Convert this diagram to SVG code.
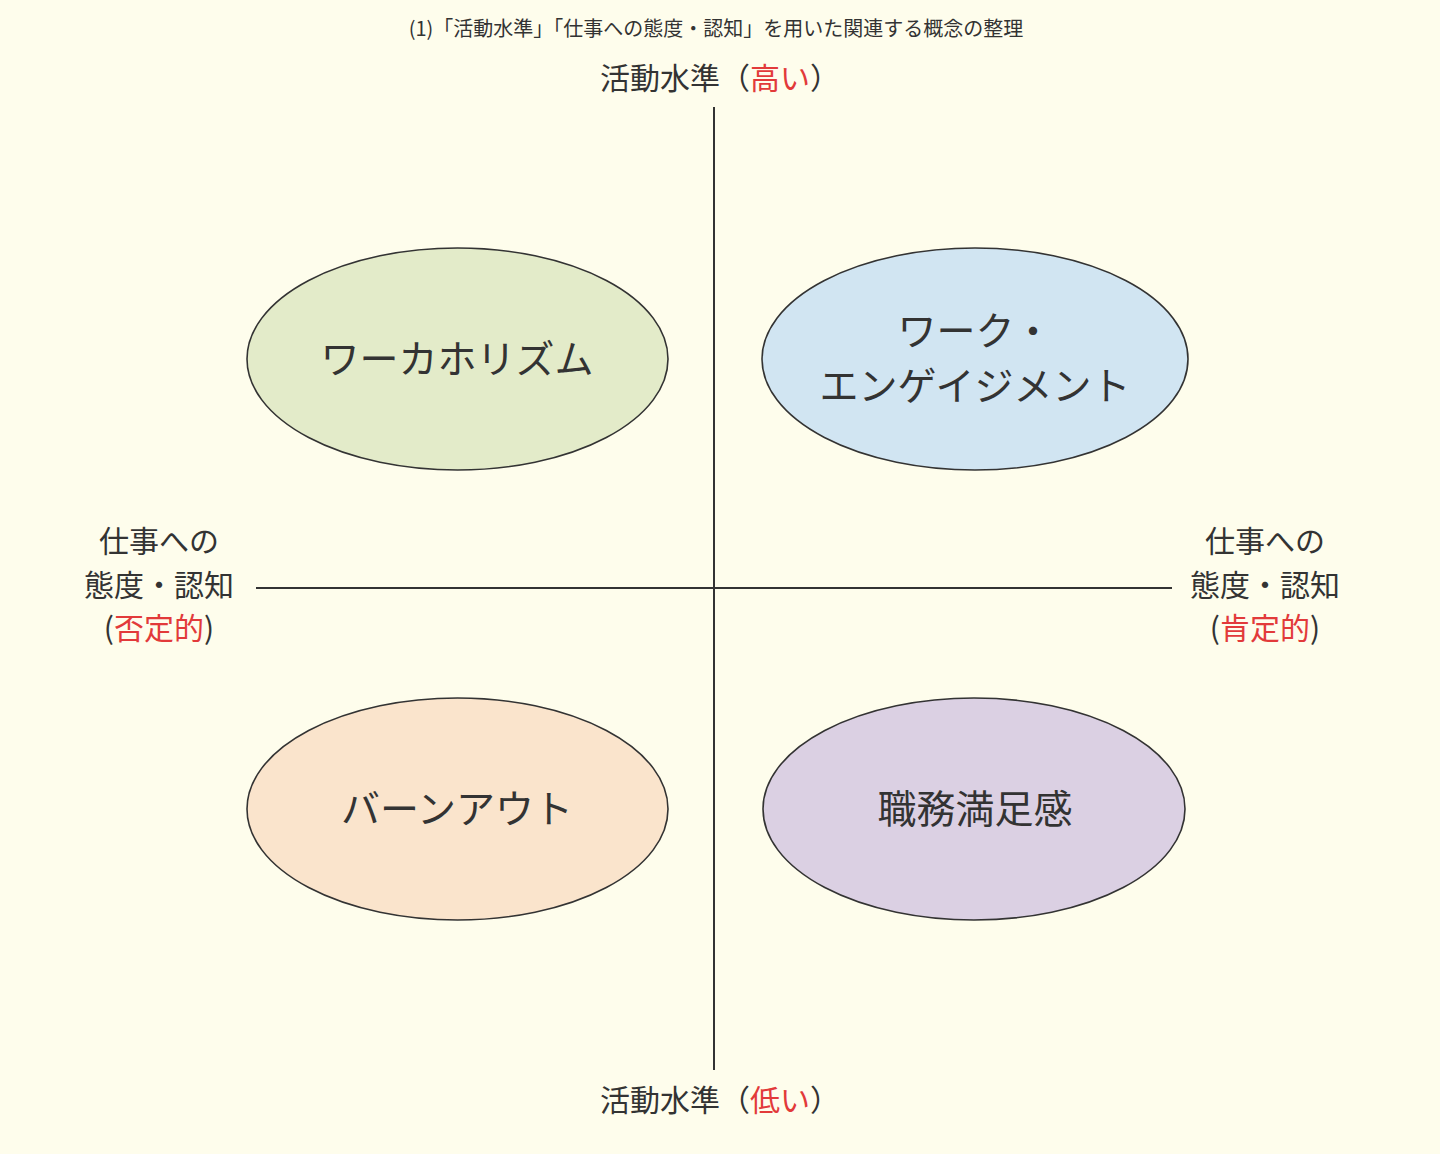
<svg xmlns="http://www.w3.org/2000/svg" width="1440" height="1154" viewBox="0 0 1440 1154">
<style>
text{font-family:"Noto Sans CJK JP","Noto Sans CJK SC",sans-serif;fill:#333}
.node{stroke:#333;stroke-width:1.6}
.lbl{font-size:39px;text-anchor:middle}
.ax{font-size:30px;text-anchor:middle}
.axs{font-size:30px}
.red{fill:#e23a3a}
.axis{stroke:#333;stroke-width:2;fill:none}
</style>
<rect width="1440" height="1154" fill="#fefdec"/>
<text x="716" y="36" font-size="20" text-anchor="middle">(1)「活動水準」「仕事への態度・認知」を用いた関連する概念の整理</text>
<g id="connectors">
<line class="axis" x1="714" y1="107" x2="714" y2="1070"/>
<line class="axis" x1="256" y1="588" x2="1172" y2="588"/>
</g>
<g id="axis-top"><text class="axs" x="600" y="89">活動水準（<tspan class="red">高い</tspan>）</text></g>
<g id="axis-bottom"><text class="axs" x="600" y="1111">活動水準（<tspan class="red">低い</tspan>）</text></g>
<g id="axis-left">
<text class="ax" x="159" y="552">仕事への</text>
<text class="ax" x="159" y="596">態度・認知</text>
<text class="ax" x="159" y="639">(<tspan class="red">否定的</tspan>)</text>
</g>
<g id="axis-right">
<text class="ax" x="1265" y="552">仕事への</text>
<text class="ax" x="1265" y="596">態度・認知</text>
<text class="ax" x="1265" y="639">(<tspan class="red">肯定的</tspan>)</text>
</g>
<g id="workaholism">
<ellipse class="node" cx="457.5" cy="359" rx="210.5" ry="111" fill="#e3ebc9"/>
<text class="lbl" x="457" y="373">ワーカホリズム</text>
</g>
<g id="work-engagement">
<ellipse class="node" cx="975" cy="359" rx="213" ry="111" fill="#d1e5f2"/>
<text class="lbl" x="975" y="345">ワーク・</text>
<text class="lbl" x="975" y="400">エンゲイジメント</text>
</g>
<g id="burnout">
<ellipse class="node" cx="457.5" cy="809" rx="210.5" ry="111" fill="#fae4cc"/>
<text class="lbl" x="457" y="823">バーンアウト</text>
</g>
<g id="job-satisfaction">
<ellipse class="node" cx="974" cy="809" rx="211" ry="111" fill="#dbd0e3"/>
<text class="lbl" x="975" y="823">職務満足感</text>
</g>
</svg>
